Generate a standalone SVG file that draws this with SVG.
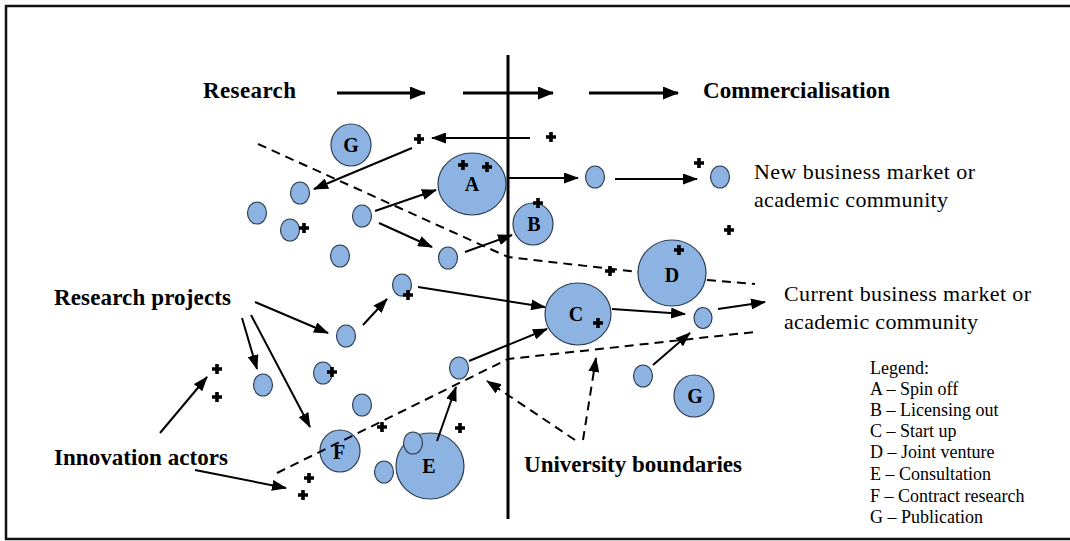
<svg xmlns="http://www.w3.org/2000/svg" width="1070" height="541" viewBox="0 0 1070 541">
<defs>
<style>
.c{fill:#8DB3E2;stroke:#2E3D50;stroke-width:1.2}
.a{fill:none;stroke:#000;stroke-width:2;marker-end:url(#ah)}
.t{fill:none;stroke:#000;stroke-width:3;marker-end:url(#ah2)}
.d{fill:none;stroke:#000;stroke-width:2;stroke-dasharray:9 6}
.da{fill:none;stroke:#000;stroke-width:2;stroke-dasharray:9 6;marker-end:url(#ah)}
.b{font-family:"Liberation Serif","Times New Roman",serif;font-weight:bold;font-size:23px;fill:#000}
.r{font-family:"Liberation Serif","Times New Roman",serif;font-size:22px;fill:#000}
.l{font-family:"Liberation Serif","Times New Roman",serif;font-size:18px;fill:#000}
.n{font-family:"Liberation Serif","Times New Roman",serif;font-weight:bold;font-size:20px;fill:#000;text-anchor:middle}
</style>
<marker id="ah" markerUnits="userSpaceOnUse" markerWidth="15" markerHeight="11" refX="14" refY="5.5" orient="auto">
<path d="M0,0 L15,5.5 L0,11 z" fill="#000"/>
</marker>
<marker id="ah2" markerUnits="userSpaceOnUse" markerWidth="16" markerHeight="13" refX="15" refY="6.5" orient="auto">
<path d="M0,0 L16,6.5 L0,13 z" fill="#000"/>
</marker>
<path id="p" d="M-5,0H5M0,-5V5" stroke="#000" stroke-width="3.6" fill="none"/>
</defs>
<rect x="6" y="6" width="1090" height="533" fill="#fff" stroke="#111" stroke-width="2.5"/>
<g id="labels">
<text class="b" x="203" y="98" textLength="93">Research</text>
<text class="b" x="703" y="98" textLength="187">Commercialisation</text>
<text class="b" x="54" y="305" textLength="177">Research projects</text>
<text class="b" x="54" y="465" textLength="174">Innovation actors</text>
<text class="b" x="524" y="472" textLength="218">University boundaries</text>
<text class="r" x="754" y="179" textLength="221">New business market or</text>
<text class="r" x="754" y="207" textLength="194">academic community</text>
<text class="r" x="784" y="301" textLength="247">Current business market or</text>
<text class="r" x="784" y="329" textLength="194">academic community</text>
</g>
<g id="legend">
<text class="l" x="870" y="374">Legend:</text>
<text class="l" x="870" y="395">A – Spin off</text>
<text class="l" x="870" y="416">B – Licensing out</text>
<text class="l" x="870" y="437">C – Start up</text>
<text class="l" x="870" y="458">D – Joint venture</text>
<text class="l" x="870" y="480">E – Consultation</text>
<text class="l" x="870" y="502">F – Contract research</text>
<text class="l" x="870" y="523">G – Publication</text>
</g>
<line id="university-line" x1="508" y1="55" x2="508" y2="519" stroke="#000" stroke-width="3"/>
<g id="node-G1"><ellipse class="c" cx="351" cy="145" rx="20" ry="21"/><text class="n" x="351" y="152">G</text></g>
<g id="node-A"><ellipse class="c" cx="472" cy="184" rx="34" ry="31"/><text class="n" x="472" y="191">A</text><use href="#p" x="463" y="165"/><use href="#p" x="487" y="167"/></g>
<g id="node-B"><ellipse class="c" cx="533" cy="224" rx="20" ry="21"/><text class="n" x="534" y="231">B</text><use href="#p" x="538" y="203"/></g>
<g id="node-C"><ellipse class="c" cx="578" cy="314" rx="33" ry="31"/><text class="n" x="576" y="321">C</text><use href="#p" x="598" y="323"/></g>
<g id="node-D"><ellipse class="c" cx="672" cy="273" rx="34" ry="33"/><text class="n" x="672" y="282">D</text><use href="#p" x="679" y="250"/></g>
<g id="node-E"><ellipse class="c" cx="430" cy="466" rx="34" ry="33"/><text class="n" x="429" y="473">E</text></g>
<g id="node-F"><ellipse class="c" cx="340" cy="451" rx="20" ry="21"/><text class="n" x="339" y="459">F</text></g>
<g id="node-G2"><ellipse class="c" cx="694" cy="396" rx="20" ry="21"/><text class="n" x="695" y="403">G</text></g>
<g id="small-nodes">
<ellipse class="c" cx="300" cy="193" rx="9.5" ry="11"/>
<ellipse class="c" cx="257" cy="213" rx="9.5" ry="11"/>
<ellipse class="c" cx="290" cy="230" rx="9.5" ry="11"/>
<ellipse class="c" cx="362" cy="216" rx="9.5" ry="11"/>
<ellipse class="c" cx="340" cy="256" rx="9.5" ry="11"/>
<ellipse class="c" cx="448" cy="258" rx="9.5" ry="11"/>
<ellipse class="c" cx="595" cy="177" rx="9.5" ry="11"/>
<ellipse class="c" cx="720" cy="177" rx="9.5" ry="11"/>
<ellipse class="c" cx="402" cy="285" rx="9.5" ry="11"/>
<ellipse class="c" cx="346" cy="336" rx="9.5" ry="11"/>
<ellipse class="c" cx="263" cy="385" rx="9.5" ry="11"/>
<ellipse class="c" cx="323" cy="373" rx="9.5" ry="11"/>
<ellipse class="c" cx="362" cy="405" rx="9.5" ry="11"/>
<ellipse class="c" cx="459" cy="368" rx="9.5" ry="11"/>
<ellipse class="c" cx="413" cy="443" rx="9.5" ry="11"/>
<ellipse class="c" cx="384" cy="472" rx="9.5" ry="11"/>
<ellipse class="c" cx="703" cy="318" rx="9" ry="10.5"/>
<ellipse class="c" cx="643" cy="376" rx="9.5" ry="11"/>
</g>
<g id="actors">
<use href="#p" x="304" y="228"/><use href="#p" x="408" y="295"/><use href="#p" x="332" y="372"/>
<use href="#p" x="419" y="139"/><use href="#p" x="551" y="137"/><use href="#p" x="699" y="163"/>
<use href="#p" x="729" y="230"/><use href="#p" x="610" y="271"/><use href="#p" x="217" y="369"/>
<use href="#p" x="217" y="397"/><use href="#p" x="382" y="427"/><use href="#p" x="460" y="428"/>
<use href="#p" x="309" y="478"/><use href="#p" x="303" y="495"/>
</g>
<g id="connectors">
<line class="t" x1="337" y1="93" x2="425" y2="93"/>
<line class="t" x1="463" y1="93" x2="553" y2="93"/>
<line class="t" x1="589" y1="93" x2="678" y2="93"/>
<polyline class="d" points="258,144 508,257 638,272"/>
<line class="d" x1="707" y1="280" x2="755" y2="284"/>
<polyline class="d" points="277,473 508,359 755,332"/>
<line class="da" x1="575" y1="440" x2="487" y2="381"/>
<line class="da" x1="583" y1="440" x2="596" y2="358"/>
<line class="a" x1="530" y1="138" x2="432" y2="138"/>
<line class="a" x1="412" y1="148" x2="314" y2="189"/>
<line class="a" x1="375" y1="211" x2="436" y2="190"/>
<line class="a" x1="379" y1="223" x2="432" y2="247"/>
<line class="a" x1="465" y1="252" x2="512" y2="235"/>
<line class="a" x1="509" y1="178" x2="578" y2="178"/>
<line class="a" x1="615" y1="179" x2="697" y2="179"/>
<line class="a" x1="418" y1="287" x2="545" y2="307"/>
<line class="a" x1="469" y1="361" x2="547" y2="329"/>
<line class="a" x1="612" y1="309" x2="685" y2="314"/>
<line class="a" x1="718" y1="309" x2="765" y2="302"/>
<line class="a" x1="653" y1="365" x2="690" y2="333"/>
<line class="a" x1="255" y1="302" x2="328" y2="333"/>
<line class="a" x1="242" y1="318" x2="257" y2="369"/>
<line class="a" x1="251" y1="315" x2="310" y2="427"/>
<line class="a" x1="363" y1="325" x2="387" y2="299"/>
<line class="a" x1="160" y1="433" x2="207" y2="377"/>
<line class="a" x1="437" y1="441" x2="456" y2="387"/>
<line class="a" x1="195" y1="470" x2="286" y2="488"/>
</g>
</svg>
